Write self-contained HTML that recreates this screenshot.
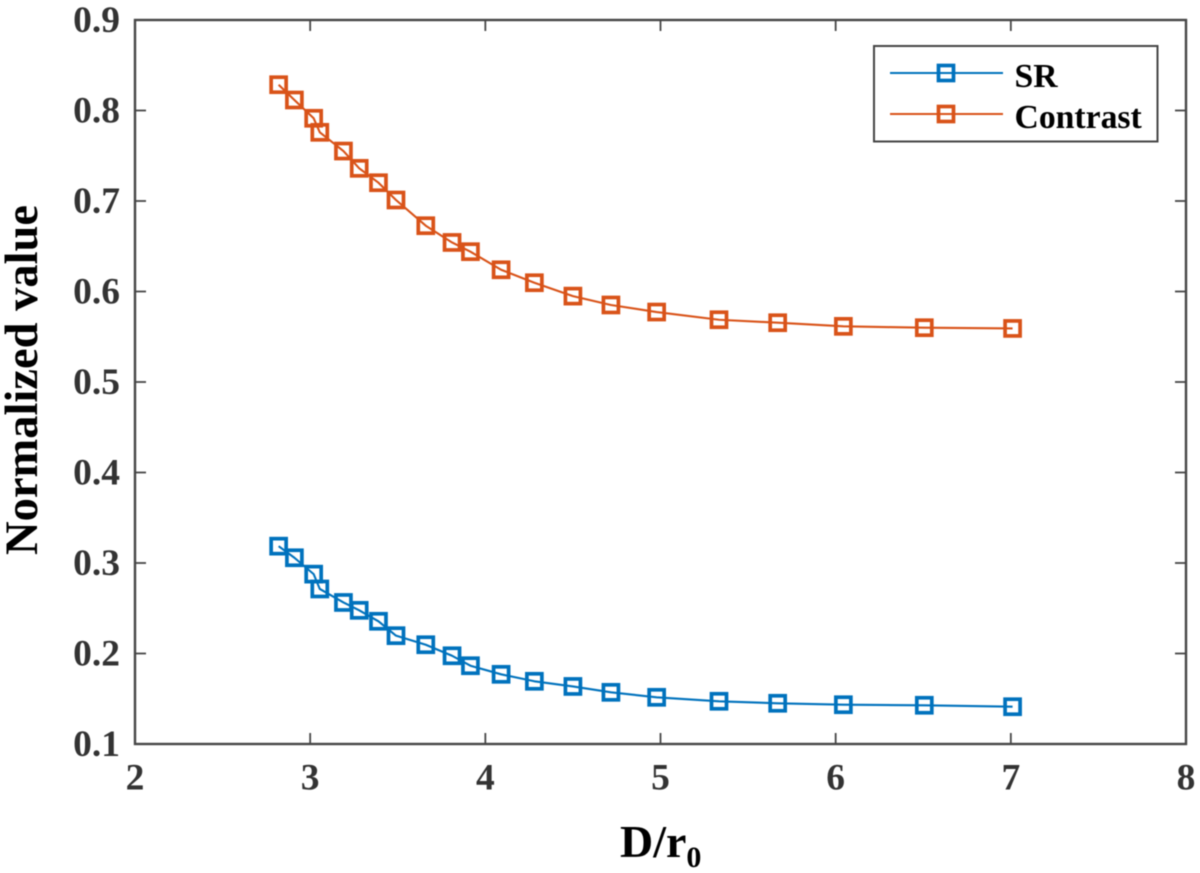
<!DOCTYPE html>
<html>
<head>
<meta charset="utf-8">
<title>Normalized value vs D/r0</title>
<style>
html,body{margin:0;padding:0;background:#fff;overflow:hidden;}
svg{display:block;filter:blur(0.45px);}
text{font-family:"Liberation Serif",serif;font-weight:bold;}
</style>
</head>
<body>
<svg id="chart" xmlns="http://www.w3.org/2000/svg" width="1200" height="873" viewBox="0 0 1200 873"></svg>
<script>
const xTicks = [2, 3, 4, 5, 6, 7, 8];
const yTicks = [0.1, 0.2, 0.3, 0.4, 0.5, 0.6, 0.7, 0.8, 0.9];
const yTickLabels = ['0.1', '0.2', '0.3', '0.4', '0.5', '0.6', '0.7', '0.8', '0.9'];
const xValues = [2.82, 2.91, 3.02, 3.055, 3.19, 3.28, 3.39, 3.49, 3.66, 3.81, 3.915, 4.09, 4.28, 4.50, 4.717, 4.978, 5.334, 5.669, 6.044, 6.506, 7.01];
const srValues = [0.3186, 0.3058, 0.2877, 0.2713, 0.2564, 0.2477, 0.2356, 0.2197, 0.2097, 0.1975, 0.1865, 0.1770, 0.1693, 0.1636, 0.1571, 0.1516, 0.1472, 0.1450, 0.1434, 0.1428, 0.1412];
const contrastValues = [0.8285, 0.8116, 0.7914, 0.7759, 0.7552, 0.7361, 0.7202, 0.7011, 0.6727, 0.6542, 0.6440, 0.6240, 0.6097, 0.5949, 0.5851, 0.5773, 0.5688, 0.5655, 0.5615, 0.5600, 0.5592];

const NS = 'http://www.w3.org/2000/svg';
const svg = document.getElementById('chart');
const plotLeft = 135, plotRight = 1186, plotTop = 20, plotBottom = 744;
const xMin = 2, xMax = 8, yMin = 0.1, yMax = 0.9;
const axisColor = '#464646', labelColor = '#333333';
const blue = '#0072BD', orange = '#D95319';

function sx(v) { return plotLeft + (v - xMin) / (xMax - xMin) * (plotRight - plotLeft); }
function sy(v) { return plotBottom - (v - yMin) / (yMax - yMin) * (plotBottom - plotTop); }

function make(tag, attrs, parent) {
  const el = document.createElementNS(NS, tag);
  for (const k in attrs) el.setAttribute(k, attrs[k]);
  (parent || svg).appendChild(el);
  return el;
}

const bg = make('rect', {x: -5, y: -5, width: 1210, height: 883, fill: '#fff'});



const frame = make('rect', {x: plotLeft, y: plotTop, width: plotRight - plotLeft, height: plotBottom - plotTop, fill: 'none', stroke: axisColor, 'stroke-width': 2.4});



xTicks.forEach(function (t) {
  const x = sx(t);
  if (t !== xMin && t !== xMax) {
    const a = make('line', {x1: x, x2: x, y1: plotBottom, y2: plotBottom - 11, stroke: axisColor, 'stroke-width': 1.8});
    
    
    const b = make('line', {x1: x, x2: x, y1: plotTop, y2: plotTop + 11, stroke: axisColor, 'stroke-width': 1.8});
    
    
  }
  const lab = make('text', {x: x, y: 789.5, 'text-anchor': 'middle', 'font-size': 37.5, fill: labelColor});
  lab.textContent = String(t);
  
  
});

yTicks.forEach(function (t, i) {
  const y = sy(t);
  if (i !== 0 && i !== yTicks.length - 1) {
    const a = make('line', {x1: plotLeft, x2: plotLeft + 11, y1: y, y2: y, stroke: axisColor, 'stroke-width': 1.8});
    
    
    const b = make('line', {x1: plotRight, x2: plotRight - 11, y1: y, y2: y, stroke: axisColor, 'stroke-width': 1.8});
    
    
  }
  const lab = make('text', {x: 120, y: y + 12, 'text-anchor': 'end', 'font-size': 37.5, fill: labelColor});
  lab.textContent = yTickLabels[i];
  
  
});

function drawSeries(values, color, groupName) {
  const g = make('g', {});
  
  
  const pts = values.map(function (v, i) { return sx(xValues[i]).toFixed(2) + ',' + sy(v).toFixed(2); }).join(' ');
  const line = make('polyline', {points: pts, fill: 'none', stroke: color, 'stroke-width': 2.1, 'stroke-linejoin': 'round'}, g);
  
  
  values.forEach(function (v, i) {
    const m = make('rect', {x: sx(xValues[i]) - 7.5, y: sy(v) - 7.5, width: 15, height: 15, fill: 'none', stroke: color, 'stroke-width': 3.7}, g);
    
    
  });
}
drawSeries(srValues, blue, 'sr-series');
drawSeries(contrastValues, orange, 'contrast-series');

const yTitle = make('text', {transform: 'translate(37,380) rotate(-90)', 'text-anchor': 'middle', 'font-size': 46.5, fill: '#000'});
yTitle.textContent = 'Normalized value';



const xTitle = make('text', {x: 620, y: 857, 'font-size': 46, fill: '#000'});


const xMain = make('tspan', {}, xTitle);
xMain.textContent = 'D/r';
const xSub = make('tspan', {'font-size': 30, dy: 10}, xTitle);
xSub.textContent = '0';

const legend = make('g', {});


const legendBox = make('rect', {x: 874, y: 46, width: 283.5, height: 95.5, fill: '#fff', stroke: axisColor, 'stroke-width': 2}, legend);



function legendEntry(label, color, cy, baseline, name) {
  const g = make('g', {}, legend);
  
  
  const l = make('line', {x1: 890, x2: 1003, y1: cy, y2: cy, stroke: color, 'stroke-width': 2.1}, g);
  
  
  const r = make('rect', {x: 938.5, y: cy - 7.5, width: 15, height: 15, fill: 'none', stroke: color, 'stroke-width': 3.7}, g);
  
  
  const t = make('text', {x: 1014.5, y: baseline, 'font-size': 33.7, fill: '#000'}, g);
  t.textContent = label;
  
  
}
legendEntry('SR', blue, 73, 87, 'legend-entry-sr');
legendEntry('Contrast', orange, 114, 128, 'legend-entry-contrast');
</script>
</body>
</html>
